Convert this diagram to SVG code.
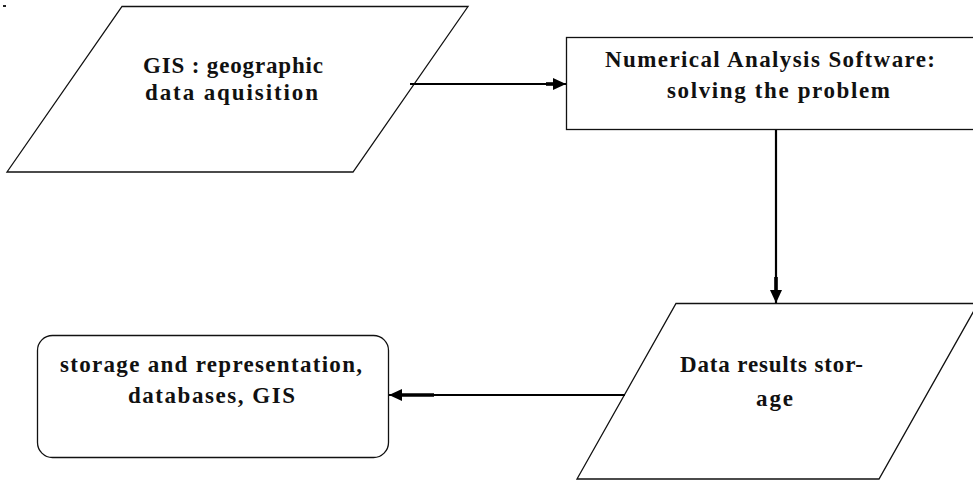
<svg xmlns="http://www.w3.org/2000/svg" width="973" height="481" viewBox="0 0 973 481">
  <defs>
    <style>
      .shape { fill: #ffffff; stroke: #111111; stroke-width: 1.3; }
      .label { font-family: "Liberation Serif", "Times New Roman", serif; font-size: 23px; font-weight: bold; fill: #111111; }
      .wire { fill: none; stroke: #000000; stroke-width: 2.2; }
      .thick { fill: none; stroke: #000000; stroke-width: 3.6; }
    </style>
    <marker id="head" markerUnits="userSpaceOnUse" markerWidth="14" markerHeight="12" refX="13" refY="6" orient="auto">
      <path d="M0,0 L13,6 L0,12 Z" fill="#000000"/>
    </marker>
  </defs>

  <rect width="973" height="481" fill="#ffffff"/>
  <rect x="3" y="5" width="3" height="2" fill="#222222"/>

  <g id="gis-input">
    <polygon class="shape" points="122,6.5 468,6.5 353,172 7,172"/>
    <text class="label" x="143" y="73" textLength="180" lengthAdjust="spacing">GIS : geographic</text>
    <text class="label" x="145" y="100" textLength="173" lengthAdjust="spacing">data aquisition</text>
  </g>

  <g id="numerical-analysis">
    <rect class="shape" x="566.5" y="37.5" width="420" height="92"/>
    <text class="label" x="605" y="67" textLength="330" lengthAdjust="spacing">Numerical Analysis Software:</text>
    <text class="label" x="667" y="98" textLength="223" lengthAdjust="spacing">solving the problem</text>
  </g>

  <g id="results-storage">
    <polygon class="shape" points="676,303.5 978,303.5 879,479 577,479"/>
    <text class="label" x="680" y="372" textLength="183" lengthAdjust="spacing">Data results stor-</text>
    <text class="label" x="756" y="406" textLength="37" lengthAdjust="spacing">age</text>
  </g>

  <g id="storage-representation">
    <rect class="shape" x="37.5" y="335.5" width="351" height="122" rx="15" ry="15"/>
    <text class="label" x="60" y="372" textLength="302" lengthAdjust="spacing">storage and representation,</text>
    <text class="label" x="128" y="403" textLength="167" lengthAdjust="spacing">databases, GIS</text>
  </g>

  <g id="connectors">
    <line class="wire" x1="410" y1="84" x2="566" y2="84" marker-end="url(#head)"/>
    <line class="thick" x1="546" y1="84" x2="556" y2="84"/>
    <line class="wire" x1="776" y1="130" x2="776" y2="303" marker-end="url(#head)"/>
    <line class="thick" x1="776" y1="277" x2="776" y2="292"/>
    <line class="wire" x1="625" y1="395" x2="389" y2="395" marker-end="url(#head)"/>
    <line class="thick" x1="434" y1="395" x2="398" y2="395"/>
  </g>
</svg>
